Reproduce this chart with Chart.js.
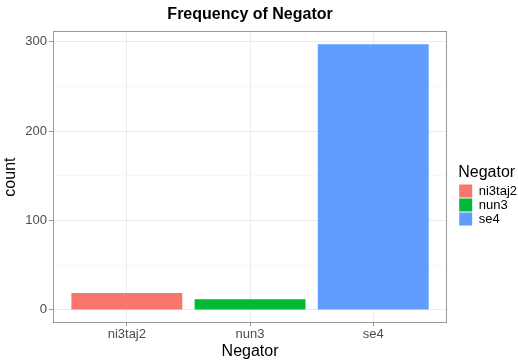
<!DOCTYPE html>
<html>
<head>
<meta charset="utf-8">
<script src="https://cdn.jsdelivr.net/npm/chart.js@4"></script>
<style>
  body { margin: 0; background: #fff; }
  #wrap { width: 518px; height: 360px; }
</style>
</head>
<body>
<div id="wrap"><canvas id="chart" width="518" height="360"></canvas></div>
<script>
// data
let categories = ["ni3taj2", "nun3", "se4"];
let counts = [19, 12, 297];
let barColors = ["#F8766D", "#00BA38", "#619CFF"];
let yTicks = [0, 50, 100, 150, 200, 250, 300];

let fontFam = "'Liberation Sans', Arial, Helvetica, sans-serif";

// ggplot style panel border + centred title, legend nudged away from the panel
let panelPlugin = {
  id: "panel",
  afterLayout(chart) {
    if (chart.legend) {
      chart.legend.left += 11;
      chart.legend.right += 11;
    }
  },
  afterDraw(chart) {
    let ctx = chart.ctx;
    let a = chart.chartArea;
    ctx.save();
    ctx.strokeStyle = "#999999";
    ctx.lineWidth = 1;
    ctx.strokeRect(Math.round(a.left) + 0.5, Math.round(a.top) + 0.5,
      Math.round(a.right - a.left) - 1, Math.round(a.bottom - a.top) - 1);
    ctx.fillStyle = "#000";
    ctx.font = "bold 16px " + fontFam;
    ctx.textAlign = "center";
    ctx.textBaseline = "middle";
    ctx.fillText("Frequency of Negator", (a.left + a.right) / 2, 15);
    ctx.restore();
  }
};

let canvas = document.getElementById("chart");

let chart = new Chart(canvas, {
  type: "bar",
  data: {
    datasets: [
      {
        label: "count",
        data: categories.map((c, i) => ({ x: i + 1, y: counts[i] })),
        backgroundColor: barColors,
        borderWidth: 0,
        barPercentage: 0.9,
        categoryPercentage: 1.0,
      },
    ],
  },
  options: {
    responsive: false,
    animation: false,
    layout: {
      padding: { top: 31, left: 1, right: 2, bottom: 0 },
    },
    scales: {
      x: {
        type: "linear",
        offset: false,
        min: 0.4,
        max: 3.6,
        afterBuildTicks(scale) {
          scale.ticks = categories.map((c, i) => ({ value: i + 1 }));
        },
        grid: {
          offset: false,
          color: "#ebebeb",
          lineWidth: 1,
          tickLength: 3,
          tickColor: "#999999",
        },
        border: { display: false },
        ticks: {
          color: "#4d4d4d",
          font: { family: fontFam, size: 13 },
          padding: 0,
          callback: (v) => categories[v - 1],
        },
        title: {
          display: true,
          text: "Negator",
          color: "#000",
          font: { family: fontFam, size: 16 },
          padding: { top: 0, bottom: -1 },
        },
      },
      y: {
        min: -14.85,
        max: 311.85,
        afterBuildTicks(scale) {
          scale.ticks = yTicks.map((v) => ({ value: v }));
        },
        grid: {
          color: (c) => (c.tick && c.tick.value % 100 === 0 ? "#ebebeb" : "#f4f4f4"),
          lineWidth: (c) => (c.tick && c.tick.value % 100 === 0 ? 1 : 0.6),
          tickLength: 4,
          tickColor: (c) => (c.tick && c.tick.value % 100 === 0 ? "#999999" : "rgba(0,0,0,0)"),
        },
        border: { display: false },
        ticks: {
          color: "#4d4d4d",
          font: { family: fontFam, size: 13 },
          padding: 2,
          autoSkip: false,
          callback: (v) => (v % 100 === 0 ? v : ""),
        },
        title: {
          display: true,
          text: "count",
          color: "#000",
          font: { family: fontFam, size: 16 },
          padding: { top: 0, bottom: 3 },
        },
      },
    },
    plugins: {
      title: { display: false },
      tooltip: { enabled: false },
      legend: {
        position: "right",
        onClick: null,
        title: {
          display: true,
          text: "Negator",
          position: "start",
          color: "#000",
          font: { family: fontFam, size: 16 },
          padding: { top: 0, bottom: 0 },
        },
        labels: {
          boxWidth: 13,
          boxHeight: 13,
          padding: 1,
          color: "#000",
          font: { family: fontFam, size: 13 },
          generateLabels: () =>
            categories.map((c, i) => ({
              text: c,
              fillStyle: barColors[i],
              strokeStyle: "#fff",
              lineWidth: 0,
              hidden: false,
              index: i,
            })),
        },
      },
    },
  },
  plugins: [panelPlugin],
});
</script>
</body>
</html>
